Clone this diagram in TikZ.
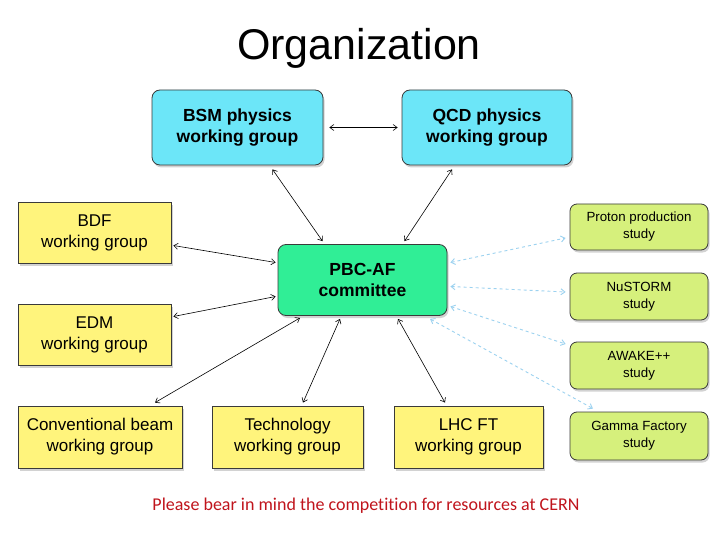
\documentclass[tikz,border=0pt]{standalone}
\usepackage{fontspec}
\setmainfont{Liberation Sans}
\newfontfamily\notefont[Ligatures=NoCommon]{Carlito}
\usetikzlibrary{arrows.meta,calc,shadows}
\definecolor{bsmcyan}{HTML}{6CE6F8}
\definecolor{wgyellow}{HTML}{FFF47C}
\definecolor{pbcgreen}{HTML}{30EE96}
\definecolor{studylime}{HTML}{D6F07C}
\definecolor{boxedge}{HTML}{3A3A3A}
\definecolor{dashblue}{HTML}{9CD2F0}
\definecolor{notered}{HTML}{C0141C}
\tikzset{
  boxbase/.style={draw=boxedge, line width=0.8pt, align=center, inner sep=2pt,
    drop shadow={shadow xshift=1.5pt, shadow yshift=-2.5pt, opacity=0.35}},
  groupbox/.style={boxbase, fill=bsmcyan, rounded corners=8pt, font=\fontsize{17.5}{21}\selectfont\bfseries},
  wgbox/.style={boxbase, fill=wgyellow, font=\fontsize{17}{21}\selectfont},
  pbcbox/.style={boxbase, fill=pbcgreen, rounded corners=8pt, font=\fontsize{17.5}{21}\selectfont\bfseries},
  studybox/.style={boxbase, fill=studylime, rounded corners=7pt, font=\fontsize{13.3}{17}\selectfont,
    minimum width=138pt},
  link/.style={{Straight Barb[length=4pt,width=6pt]}-{Straight Barb[length=4pt,width=6pt]}, line width=0.6pt, black},
  studylink/.style={link, dashblue, dashed, line width=0.9pt}
}
\begin{document}
\begin{tikzpicture}[x=1pt,y=-1pt]
\useasboundingbox[fill=white] (0,0) rectangle (720,540);
% title
\node (title) at (359,48) {\fontsize{43}{48}\selectfont Organization};
% physics groups
\node[groupbox, minimum width=171pt, minimum height=75pt] (bsm) at (237.5,127.5) {BSM physics\\working group};
\node[groupbox, minimum width=170pt, minimum height=75pt] (qcd) at (487,127.5) {QCD physics\\working group};
% committee
\node[pbcbox, minimum width=169pt, minimum height=71pt] (pbc) at (362.5,280) {PBC-AF\\committee};
% working groups
\node[wgbox, minimum width=153pt, minimum height=61pt] (bdf) at (94.5,233) {BDF\\working group};
\node[wgbox, minimum width=153pt, minimum height=61pt] (edm) at (94.5,335) {EDM\\working group};
\node[wgbox, minimum width=164pt, minimum height=62pt] (conv) at (100,437) {Conventional beam\\working group};
\node[wgbox, minimum width=151pt, minimum height=62pt] (tech) at (287.5,437) {Technology\\working group};
\node[wgbox, minimum width=149pt, minimum height=62pt] (lhc) at (468.5,437) {LHC FT\\working group};
% studies
\node[studybox, minimum height=46pt] (proton) at (639,227) {Proton production\\study};
\node[studybox, minimum height=47pt] (nustorm) at (639,296.5) {NuSTORM\\study};
\node[studybox, minimum height=47pt] (awake) at (639,365.5) {AWAKE++\\study};
\node[studybox, minimum height=48pt] (gamma) at (639,436) {Gamma Factory\\study};
% connectors
\draw[link, shorten <=6pt, shorten >=4pt] (bsm.east) -- (qcd.west);
\draw[link] ($(bsm.south)+(35,4)$) -- ($(pbc.north)+(-40,-3)$);
\draw[link] ($(qcd.south)+(-35,4)$) -- ($(pbc.north)+(42,-3)$);
\draw[link] ($(bdf.east)+(2,12.5)$) -- ($(pbc.west)+(-2,-17.5)$);
\draw[link] ($(edm.east)+(2,-18.5)$) -- ($(pbc.west)+(-2,16.5)$);
\draw[link] ($(conv.north)+(55,-3)$) -- ($(pbc.south)+(-62.5,2)$);
\draw[link] ($(tech.north)+(15.5,-3)$) -- ($(pbc.south)+(-22.5,3)$);
\draw[link] ($(lhc.north)+(-23.5,-3)$) -- ($(pbc.south)+(35.5,3)$);
\draw[studylink] ($(pbc.east)+(3,-17.5)$) -- ($(proton.west)+(-4,11)$);
\draw[studylink] ($(pbc.east)+(3,6.5)$) -- ($(nustorm.west)+(-4,-4.5)$);
\draw[studylink] ($(pbc.east)+(3,26.5)$) -- ($(awake.west)+(-4,-21.5)$);
\draw[studylink] ($(pbc.south)+(67.5,3)$) -- ($(gamma.north)+(-46,-3)$);
% note
\node[text=notered, font=\notefont\fontsize{18}{21}\selectfont] (note) at (366,506) {Please bear in mind the competition for resources at CERN};
\end{tikzpicture}
\end{document}
